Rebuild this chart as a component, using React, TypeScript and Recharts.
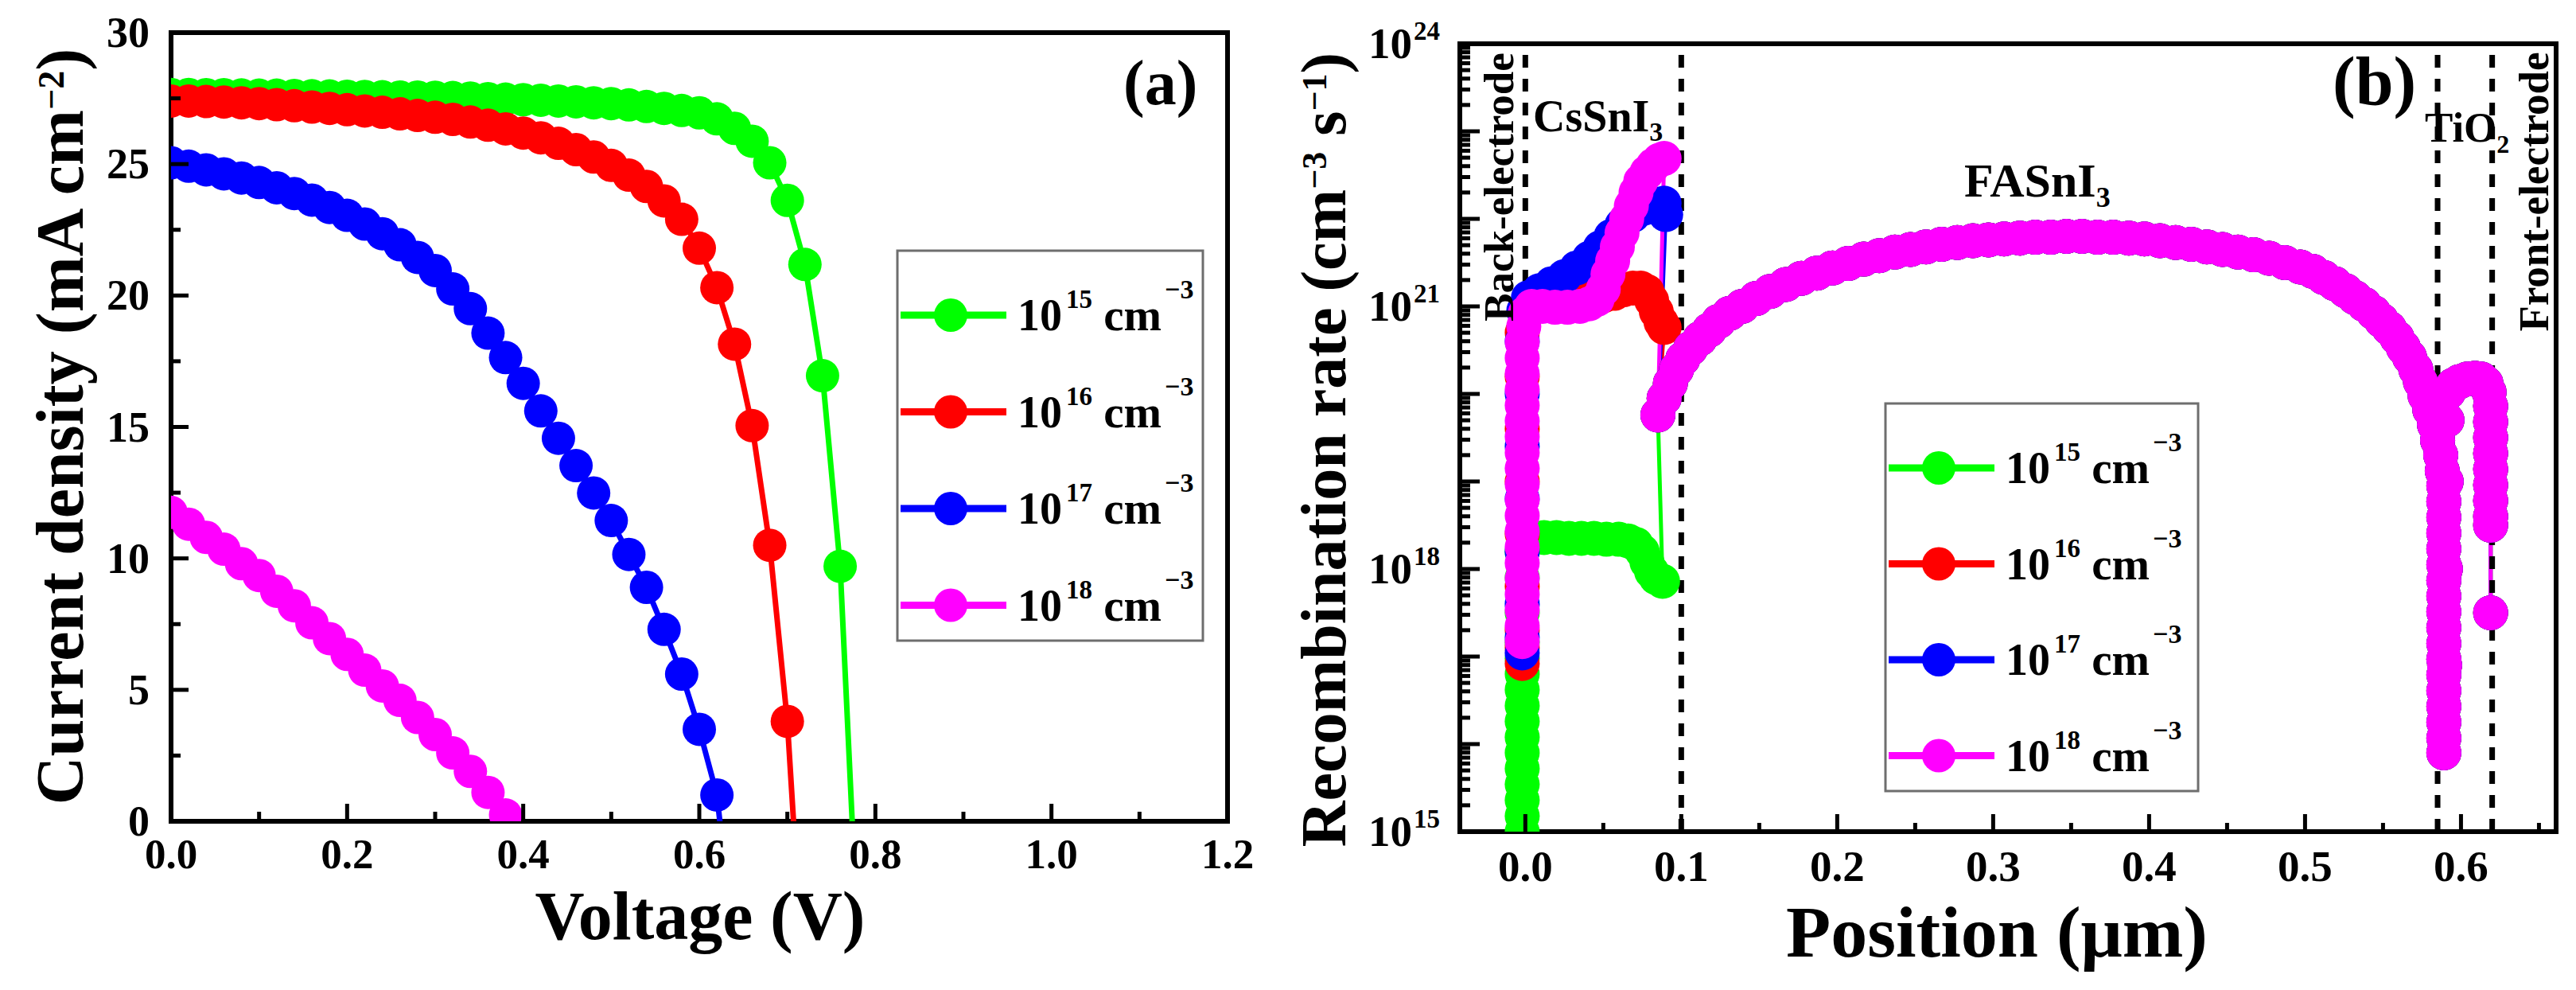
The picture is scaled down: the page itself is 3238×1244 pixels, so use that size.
import React from 'react';
import { LineChart, Line, XAxis, YAxis, ReferenceLine, ReferenceArea } from 'recharts';

const FONT = "'Liberation Serif', 'Times New Roman', serif";

// ---------- Panel (a): J-V curves ----------
const voltage = [
  0, 0.02, 0.04, 0.06, 0.08, 0.1, 0.12, 0.14, 0.16, 0.18, 0.2, 0.22, 0.24, 0.26, 0.28, 0.3, 0.32, 0.34, 0.36, 0.38,
  0.4, 0.42, 0.44, 0.46, 0.48, 0.5, 0.52, 0.54, 0.56, 0.58, 0.6, 0.62, 0.64, 0.66, 0.68, 0.7, 0.72, 0.74, 0.76, 0.78,
];
const jGreen = [
  27.65, 27.65, 27.64, 27.64, 27.63, 27.62, 27.62, 27.61, 27.6, 27.59, 27.58, 27.57, 27.56, 27.55, 27.55, 27.54, 27.53,
  27.51, 27.49, 27.47, 27.45, 27.43, 27.4, 27.37, 27.33, 27.3, 27.25, 27.19, 27.12, 27.04, 26.95, 26.72, 26.36, 25.87,
  25.05, 23.62, 21.18, 16.95, 9.7, -4.5,
];
const jRed = [
  27.4, 27.4, 27.38, 27.36, 27.33, 27.3, 27.26, 27.22, 27.17, 27.12, 27.07, 27.02, 26.97, 26.91, 26.85, 26.78, 26.7,
  26.6, 26.48, 26.34, 26.18, 26.0, 25.79, 25.55, 25.27, 24.95, 24.58, 24.15, 23.6, 22.9, 21.8, 20.3, 18.15, 15.05, 10.5,
  3.8, -7,
];
const jBlue = [
  25.05, 24.92, 24.78, 24.63, 24.47, 24.3, 24.1, 23.88, 23.63, 23.35, 23.05, 22.72, 22.35, 21.93, 21.45, 20.95, 20.25,
  19.5, 18.57, 17.64, 16.66, 15.61, 14.57, 13.53, 12.49, 11.44, 10.15, 8.9, 7.3, 5.6, 3.5, 1.0, -5,
];
const jMagenta = [
  11.75, 11.3, 10.8, 10.35, 9.8, 9.35, 8.75, 8.2, 7.55, 6.95, 6.35, 5.75, 5.15, 4.6, 3.95, 3.3, 2.6, 1.9, 1.1, 0.24, -0.8,
];

const xTicksA = [0, 0.1, 0.2, 0.3, 0.4, 0.5, 0.6, 0.7, 0.8, 0.9, 1.0, 1.1, 1.2];
const yTicksA = [0, 2.5, 5, 7.5, 10, 12.5, 15, 17.5, 20, 22.5, 25, 27.5, 30];

// ---------- Panel (b): recombination rate profiles [position (um), rate] ----------
const greenLeft: [number, number][] = [
  [-0.002, 1e14], [-0.002, 6.31e14], [-0.002, 1.0e15], [-0.002, 1.51e15], [-0.002, 2.29e15], [-0.002, 3.47e15],
  [-0.002, 5.25e15], [-0.002, 7.94e15], [-0.002, 1.2e16], [-0.002, 1.82e16], [-0.002, 2.75e16], [-0.002, 4.17e16],
  [-0.002, 6.31e16], [-0.002, 9.55e16], [-0.002, 1.45e17], [-0.002, 3.16e17], [-0.002, 7.94e17], [-0.002, 1.58e18],
  [0.0, 2.19e18], [0.005, 2.29e18], [0.012, 2.29e18], [0.02, 2.29e18], [0.028, 2.24e18], [0.036, 2.24e18],
  [0.044, 2.24e18], [0.052, 2.19e18], [0.06, 2.19e18], [0.066, 2.09e18], [0.071, 1.91e18], [0.075, 1.58e18],
  [0.078, 1.2e18], [0.081, 9.33e17], [0.084, 7.94e17], [0.088, 7.24e17],
];
const redLeft: [number, number][] = [
  [-0.002, 8.32e16], [-0.002, 1.26e17], [-0.002, 2.0e17], [-0.002, 6.31e17], [-0.002, 2.51e18], [-0.002, 1e19],
  [-0.002, 3.98e19], [-0.002, 1.58e20], [-0.002, 5.01e20], [0.0, 9.55e20], [0.004, 1.15e21], [0.012, 1.17e21],
  [0.02, 1.17e21], [0.03, 1.2e21], [0.04, 1.26e21], [0.05, 1.32e21], [0.057, 1.41e21], [0.063, 1.55e21],
  [0.069, 1.62e21], [0.074, 1.62e21], [0.078, 1.48e21], [0.081, 1.17e21], [0.084, 8.71e20], [0.087, 6.61e20],
  [0.089, 5.75e20],
];
const blueLeft: [number, number][] = [
  [-0.002, 1.1e17], [-0.002, 1.66e17], [-0.002, 3.98e17], [-0.002, 1.58e18], [-0.002, 6.31e18], [-0.002, 2.51e19],
  [-0.002, 1e20], [-0.002, 3.98e20], [-0.001, 8.91e20], [0.002, 1.26e21], [0.009, 1.51e21], [0.017, 1.82e21],
  [0.025, 2.19e21], [0.033, 2.75e21], [0.041, 3.55e21], [0.048, 4.68e21], [0.055, 6.31e21], [0.062, 8.51e21],
  [0.069, 1.1e22], [0.076, 1.32e22], [0.083, 1.48e22], [0.089, 1.51e22], [0.09, 1.12e22],
];
const magentaLeft: [number, number][] = [
  [-0.002, 1.48e17], [-0.002, 2.24e17], [-0.002, 3.39e17], [-0.002, 5.13e17], [-0.002, 7.76e17], [-0.002, 1.17e18],
  [-0.002, 1.78e18], [-0.002, 2.69e18], [-0.002, 4.07e18], [-0.002, 6.17e18], [-0.002, 9.33e18], [-0.002, 1.41e19],
  [-0.002, 2.14e19], [-0.002, 3.24e19], [-0.002, 4.9e19], [-0.002, 7.41e19], [-0.002, 1.12e20], [-0.002, 1.7e20],
  [-0.002, 2.57e20], [-0.002, 3.89e20], [-0.001, 5.89e20], [0.0, 8.32e20], [0.004, 1.0e21], [0.011, 1.0e21],
  [0.019, 9.77e20], [0.027, 9.77e20], [0.035, 1.0e21], [0.041, 1.07e21], [0.046, 1.2e21], [0.05, 1.58e21],
  [0.053, 2.34e21], [0.056, 3.31e21], [0.059, 4.79e21], [0.062, 6.92e21], [0.065, 1.0e22], [0.068, 1.41e22],
  [0.071, 2.0e22], [0.074, 2.69e22], [0.078, 3.39e22], [0.082, 4.07e22], [0.086, 4.68e22], [0.089, 4.9e22],
];
// FASnI3 bulk + TiO2 region (common to all four curves; magenta is drawn on top)
const bulkProfile: [number, number][] = [
  [0.085, 5.75e19], [0.089, 8.91e19], [0.093, 1.32e20], [0.097, 1.91e20], [0.101, 2.51e20], [0.106, 3.31e20],
  [0.112, 4.27e20], [0.118, 5.37e20], [0.124, 6.76e20], [0.131, 8.32e20], [0.139, 1.0e21], [0.148, 1.23e21],
  [0.157, 1.48e21], [0.167, 1.78e21], [0.177, 2.09e21], [0.187, 2.4e21], [0.197, 2.75e21], [0.207, 3.09e21],
  [0.217, 3.47e21], [0.227, 3.8e21], [0.237, 4.17e21], [0.247, 4.47e21], [0.257, 4.79e21], [0.267, 5.13e21],
  [0.277, 5.37e21], [0.287, 5.62e21], [0.297, 5.75e21], [0.307, 5.89e21], [0.317, 6.03e21], [0.327, 6.17e21],
  [0.337, 6.17e21], [0.347, 6.31e21], [0.357, 6.31e21], [0.367, 6.17e21], [0.377, 6.17e21], [0.387, 6.03e21],
  [0.397, 5.89e21], [0.407, 5.62e21], [0.417, 5.37e21], [0.427, 5.13e21], [0.437, 4.79e21], [0.447, 4.47e21],
  [0.457, 4.17e21], [0.467, 3.89e21], [0.477, 3.55e21], [0.487, 3.16e21], [0.497, 2.82e21], [0.505, 2.51e21],
  [0.512, 2.14e21], [0.519, 1.82e21], [0.526, 1.51e21], [0.532, 1.26e21], [0.538, 1.05e21], [0.544, 8.51e20],
  [0.549, 6.92e20], [0.554, 5.62e20], [0.559, 4.37e20], [0.563, 3.39e20], [0.567, 2.63e20], [0.571, 1.91e20],
  [0.574, 1.38e20], [0.577, 9.55e19], [0.58, 6.61e19], [0.583, 4.47e19], [0.585, 2.95e19], [0.587, 2.0e19],
  [0.588, 1.32e19], [0.589, 8.91e18], [0.589, 5.89e18], [0.589, 3.89e18], [0.589, 2.57e18], [0.589, 1.7e18],
  [0.589, 1.12e18], [0.589, 7.41e17], [0.589, 4.9e17], [0.589, 3.24e17], [0.589, 2.14e17], [0.589, 1.41e17],
  [0.589, 9.33e16], [0.589, 6.17e16], [0.589, 4.07e16], [0.589, 2.69e16], [0.589, 1.78e16], [0.589, 1.17e16],
  [0.589, 7.94e15], [0.5895, 7.94e16], [0.59, 1.0e18], [0.5905, 1.0e19], [0.591, 5.01e19], [0.592, 1.05e20],
  [0.595, 1.26e20], [0.599, 1.38e20], [0.604, 1.48e20], [0.609, 1.51e20], [0.613, 1.48e20], [0.616, 1.32e20],
  [0.618, 1.05e20], [0.619, 7.24e19], [0.619, 4.79e19], [0.619, 3.16e19], [0.619, 2.09e19], [0.619, 1.38e19],
  [0.619, 9.12e18], [0.619, 6.03e18], [0.619, 3.98e18], [0.619, 3.16e18], [0.619, 3.16e17],
];

const xTicksB = [0, 0.05, 0.1, 0.15, 0.2, 0.25, 0.3, 0.35, 0.4, 0.45, 0.5, 0.55, 0.6, 0.65];
const decadesB = [15, 16, 17, 18, 19, 20, 21, 22, 23];
const labeledExpB = [15, 18, 21, 24];
const layerBoundaries = [0, 0.1, 0.585, 0.62];

const seriesColors = ['#00FF00', '#FF0000', '#0000FF', '#FF00FF'];
const dopingExp = ['15', '16', '17', '18'];

// ---------- helpers ----------
const toJV = (j: number[]) => j.map((J, i) => ({ v: voltage[i], j: J }));
const toPts = (a: [number, number][]) => a.map(([x, r]) => ({ x, r }));

const jvSeries = [toJV(jGreen), toJV(jRed), toJV(jBlue), toJV(jMagenta)];
const recSeries = [
  toPts([...greenLeft, ...bulkProfile]),
  toPts([...redLeft, ...bulkProfile]),
  toPts([...blueLeft, ...bulkProfile]),
  toPts([...magentaLeft, ...bulkProfile]),
];

const yTicksB: number[] = [];
decadesB.forEach((e) => {
  for (let m = 1; m <= 9; m++) yTicksB.push(Number((m * Math.pow(10, e)).toPrecision(3)));
});
yTicksB.push(1e24);

const txt = { fontFamily: FONT, fontWeight: 'bold' as const, fill: '#000' };

// ---------- tick renderers ----------
const TickXA = (props: any) => {
  const { x, y, payload } = props;
  const v = payload.value as number;
  const major = Math.round(v * 10) % 2 === 0;
  return (
    <g>
      <line x1={x} y1={y} x2={x} y2={y - (major ? 22 : 12)} stroke="#000" strokeWidth={5} />
      {major && (
        <text x={x} y={y + 59} textAnchor="middle" fontSize={53} {...txt}>
          {v.toFixed(1)}
        </text>
      )}
    </g>
  );
};

const TickYA = (props: any) => {
  const { x, y, payload } = props;
  const v = payload.value as number;
  const major = v % 5 === 0;
  return (
    <g>
      <line x1={x} y1={y} x2={x + (major ? 22 : 12)} y2={y} stroke="#000" strokeWidth={5} />
      {major && (
        <text x={x - 27} y={y + 18} textAnchor="end" fontSize={54} {...txt}>
          {String(v)}
        </text>
      )}
    </g>
  );
};

const TickXB = (props: any) => {
  const { x, y, payload } = props;
  const v = payload.value as number;
  const major = Math.round(v * 100) % 10 === 0;
  return (
    <g>
      <line x1={x} y1={y} x2={x} y2={y - (major ? 22 : 11)} stroke="#000" strokeWidth={5} />
      {major && (
        <text x={x} y={y + 62} textAnchor="middle" fontSize={55} {...txt}>
          {v.toFixed(1)}
        </text>
      )}
    </g>
  );
};

const TickYB = (props: any) => {
  const { x, y, payload } = props;
  const v = payload.value as number;
  const e = Math.floor(Math.log10(v) + 1e-9);
  const mant = v / Math.pow(10, e);
  const decade = Math.abs(mant - 1) < 1e-6;
  const labeled = decade && labeledExpB.includes(e);
  return (
    <g>
      <line x1={x} y1={y} x2={x + (decade ? 25 : 13)} y2={y} stroke="#000" strokeWidth={5} />
      {labeled && (
        <text x={x - 25} y={y + 18} textAnchor="end" fontSize={55} {...txt}>
          10
          <tspan fontSize={33} dy={-23} dx={2}>
            {String(e)}
          </tspan>
        </text>
      )}
    </g>
  );
};

// ---------- legend ----------
const LegendBox = ({ left, top, width, height, gap }: any) => (
  <g>
    <rect x={left} y={top} width={width} height={height} fill="#fff" stroke="#6e6e6e" strokeWidth={3} />
    {seriesColors.map((c, i) => {
      const cy = top + 81 + i * gap;
      return (
        <g key={c}>
          <line x1={left + 4} x2={left + 137} y1={cy} y2={cy} stroke={c} strokeWidth={9} />
          <circle cx={left + 67} cy={cy} r={21} fill={c} />
          <text x={left + 151} y={cy + 19} fontSize={56} {...txt}>
            10
            <tspan fontSize={33} dy={-28} dx={5}>
              {dopingExp[i]}
            </tspan>
            <tspan fontSize={57} dy={28}>
              {' cm'}
            </tspan>
            <tspan fontSize={34} dy={-40} dx={4}>
              {'\u22123'}
            </tspan>
          </text>
        </g>
      );
    })}
  </g>
);

export default function App() {
  return (
    <div style={{ position: 'absolute', left: 0, top: 0, width: 3238, height: 1244, background: '#fff', overflow: 'hidden' }}>
      {/* Panel (a) */}
      <div style={{ position: 'absolute', left: 0, top: 0 }}>
        <LineChart width={1620} height={1244} margin={{ top: 41, right: 77, bottom: 211, left: 214 }}>
          <XAxis
            dataKey="v"
            type="number"
            domain={[0, 1.2]}
            ticks={xTicksA}
            interval={0}
            allowDataOverflow
            height={1}
            tickSize={0}
            tickMargin={0}
            tickLine={false}
            axisLine={false}
            tick={(p: any) => <TickXA {...p} />}
          />
          <YAxis
            type="number"
            domain={[0, 30]}
            ticks={yTicksA}
            interval={0}
            allowDataOverflow
            width={1}
            tickSize={0}
            tickMargin={0}
            tickLine={false}
            axisLine={false}
            tick={(p: any) => <TickYA {...p} />}
          />
          {jvSeries.map((d, i) => (
            <Line
              key={seriesColors[i]}
              data={d}
              dataKey="j"
              stroke={seriesColors[i]}
              strokeWidth={7}
              dot={{ r: 21, fill: seriesColors[i], stroke: 'none', strokeWidth: 0 }}
              activeDot={false}
              isAnimationActive={false}
            />
          ))}
          <ReferenceArea x1={0} x2={1.2} y1={0} y2={30} fill="none" stroke="#000" strokeWidth={6} />
        </LineChart>
      </div>

      {/* Panel (b) */}
      <div style={{ position: 'absolute', left: 1620, top: 0 }}>
        <LineChart width={1618} height={1244} margin={{ top: 55, right: 25, bottom: 198, left: 214 }}>
          <XAxis
            dataKey="x"
            type="number"
            domain={[-0.042, 0.661]}
            ticks={xTicksB}
            interval={0}
            allowDataOverflow
            height={1}
            tickSize={0}
            tickMargin={0}
            tickLine={false}
            axisLine={false}
            tick={(p: any) => <TickXB {...p} />}
          />
          <YAxis
            type="number"
            scale="log"
            domain={[1e15, 1e24]}
            ticks={yTicksB}
            interval={0}
            allowDataOverflow
            width={1}
            tickSize={0}
            tickMargin={0}
            tickLine={false}
            axisLine={false}
            tick={(p: any) => <TickYB {...p} />}
          />
          {recSeries.map((d, i) => (
            <Line
              key={seriesColors[i]}
              data={d}
              dataKey="r"
              stroke={seriesColors[i]}
              strokeWidth={5}
              dot={{ r: 22, fill: seriesColors[i], stroke: 'none', strokeWidth: 0 }}
              activeDot={false}
              isAnimationActive={false}
            />
          ))}
          {layerBoundaries.map((b) => (
            <ReferenceLine key={b} x={b} stroke="#000" strokeWidth={7} strokeDasharray="16 14" />
          ))}
          <ReferenceArea x1={-0.042} x2={0.661} y1={1e15} y2={1e24} fill="none" stroke="#000" strokeWidth={6} />
        </LineChart>
      </div>

      {/* Text overlay: titles, annotations, legends */}
      <svg style={{ position: 'absolute', left: 0, top: 0, pointerEvents: 'none' }} width={3238} height={1244}>
        {/* panel (a) */}
        <text transform="translate(104,536) rotate(-90)" textAnchor="middle" fontSize={84} {...txt}>
          Current density (mA cm
          <tspan fontSize={46} dy={-24}>
            {'\u22122'}
          </tspan>
          <tspan dy={24}>)</tspan>
        </text>
        <text x={880} y={1180} textAnchor="middle" fontSize={86} {...txt}>
          Voltage (V)
        </text>
        <text x={1412} y={131} fontSize={80} {...txt}>
          (a)
        </text>
        <LegendBox left={1128} top={315} width={384} height={490} gap={121.5} />

        {/* panel (b) */}
        <text transform="translate(1691,565) rotate(-90)" textAnchor="middle" fontSize={80} {...txt}>
          Recombination rate (cm
          <tspan fontSize={44} dy={-24}>
            {'\u22123'}
          </tspan>
          <tspan dy={24}>{' s'}</tspan>
          <tspan fontSize={44} dy={-24}>
            {'\u22121'}
          </tspan>
          <tspan dy={24}>)</tspan>
        </text>
        <text x={2510} y={1202} textAnchor="middle" fontSize={92} {...txt}>
          Position (μm)
        </text>
        <text x={2932} y={131} fontSize={86} {...txt}>
          (b)
        </text>
        <text transform="translate(1902,235) rotate(-90)" textAnchor="middle" fontSize={53} {...txt}>
          Back-electrode
        </text>
        <text transform="translate(3203,241) rotate(-90)" textAnchor="middle" fontSize={53} {...txt}>
          Front-electrode
        </text>
        <text x={1927} y={165} fontSize={56} {...txt}>
          CsSnI
          <tspan fontSize={34} dy={12}>
            3
          </tspan>
        </text>
        <text x={2469} y={247} fontSize={60} {...txt}>
          FASnI
          <tspan fontSize={36} dy={13}>
            3
          </tspan>
        </text>
        <text x={3048} y={178} fontSize={53} {...txt}>
          TiO
          <tspan fontSize={32} dy={14}>
            2
          </tspan>
        </text>
        <LegendBox left={2370} top={507} width={393} height={487} gap={120.5} />
      </svg>
    </div>
  );
}
